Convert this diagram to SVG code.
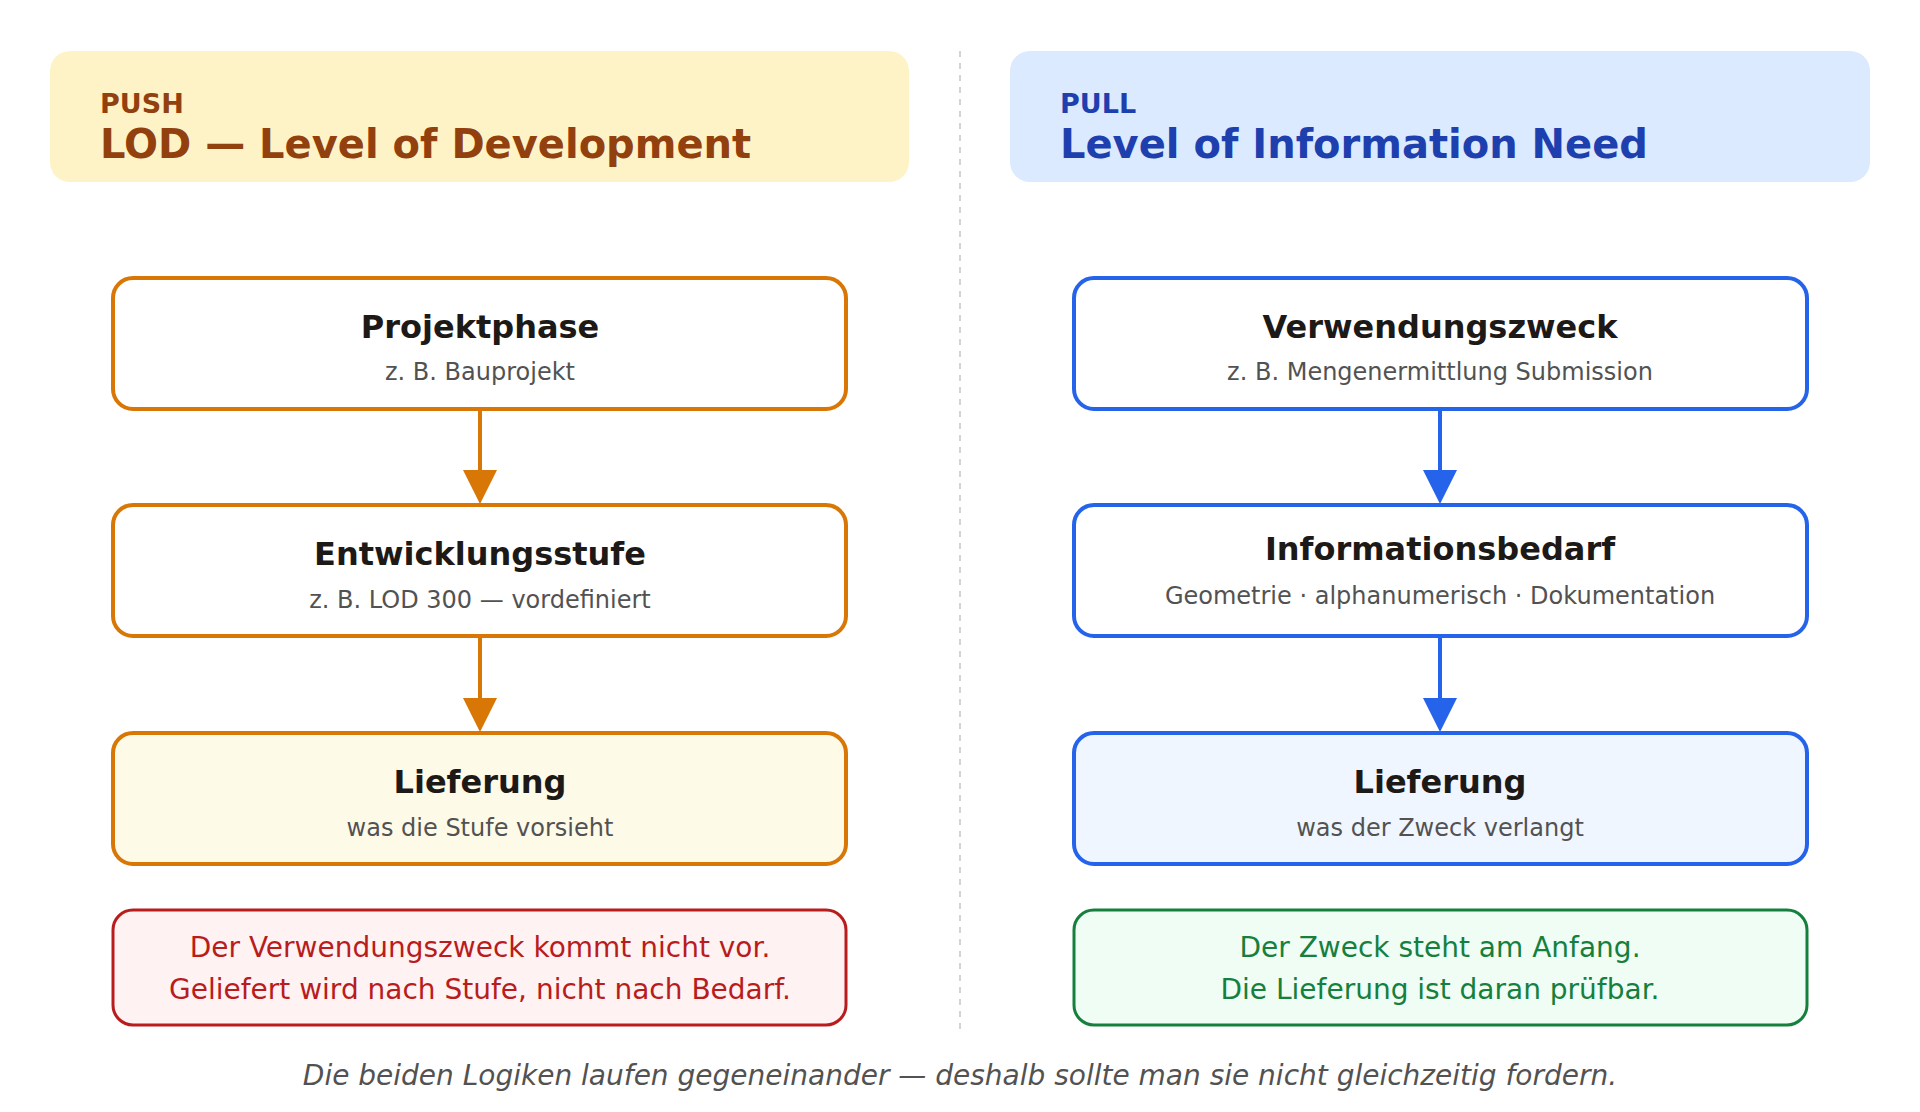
<svg xmlns="http://www.w3.org/2000/svg" width="1920" height="1112" viewBox="0 0 1920 1112">
<style>
text{font-family:"DejaVu Sans","Noto Sans",sans-serif}
.t{font-size:32px;font-weight:bold;fill:#1c1917;text-anchor:middle}
.s{font-size:24px;fill:#525252;text-anchor:middle}
.n{font-size:28px;text-anchor:middle}
.o{fill:#fff;stroke:#d97706;stroke-width:4}
.b{fill:#fff;stroke:#2563eb;stroke-width:4}
</style>
<rect width="1920" height="1112" fill="#fff"/>
<g id="header-push"><rect x="50" y="51" width="859" height="131" rx="20" fill="#fef3c7"/>
<text x="100" y="113" font-size="27" font-weight="bold" fill="#92400e">PUSH</text>
<text x="100" y="158" font-size="40" font-weight="bold" fill="#92400e">LOD — Level of Development</text></g>
<g id="header-pull"><rect x="1010" y="51" width="860" height="131" rx="20" fill="#dbeafe"/>
<text x="1060" y="113" font-size="27" font-weight="bold" fill="#1e40af">PULL</text>
<text x="1060" y="158" font-size="40" font-weight="bold" fill="#1e40af">Level of Information Need</text></g>
<line x1="960" y1="51" x2="960" y2="1031" stroke="#d4d4d4" stroke-width="2" stroke-dasharray="6,6"/>
<g id="connectors">
<line x1="480" y1="409" x2="480" y2="472" stroke="#d97706" stroke-width="4"/><path d="M463,470L497,470L480,504z" fill="#d97706"/>
<line x1="480" y1="636" x2="480" y2="700" stroke="#d97706" stroke-width="4"/><path d="M463,698L497,698L480,732z" fill="#d97706"/>
<line x1="1440" y1="409" x2="1440" y2="472" stroke="#2563eb" stroke-width="4"/><path d="M1423,470L1457,470L1440,504z" fill="#2563eb"/>
<line x1="1440" y1="636" x2="1440" y2="700" stroke="#2563eb" stroke-width="4"/><path d="M1423,698L1457,698L1440,732z" fill="#2563eb"/>
</g>
<g id="projektphase"><rect class="o" x="113" y="278" width="733" height="131" rx="20"/><text class="t" x="480" y="338">Projektphase</text><text class="s" x="480" y="380">z. B. Bauprojekt</text></g>
<g id="entwicklungsstufe"><rect class="o" x="113" y="505" width="733" height="131" rx="20"/><text class="t" x="480" y="565">Entwicklungsstufe</text><text class="s" x="480" y="608">z. B. LOD 300 — vordefiniert</text></g>
<g id="lieferung-push"><rect class="o" x="113" y="733" width="733" height="131" rx="20" style="fill:#fefae8"/><text class="t" x="480" y="793">Lieferung</text><text class="s" x="480" y="836">was die Stufe vorsieht</text></g>
<g id="note-push"><rect x="113" y="910" width="733" height="115" rx="20" fill="#fef2f2" stroke="#b91c1c" stroke-width="3"/><text class="n" x="480" y="957" fill="#b91c1c">Der Verwendungszweck kommt nicht vor.</text><text class="n" x="480" y="999" fill="#b91c1c">Geliefert wird nach Stufe, nicht nach Bedarf.</text></g>
<g id="verwendungszweck"><rect class="b" x="1074" y="278" width="733" height="131" rx="20"/><text class="t" x="1440" y="338">Verwendungszweck</text><text class="s" x="1440" y="380">z. B. Mengenermittlung Submission</text></g>
<g id="informationsbedarf"><rect class="b" x="1074" y="505" width="733" height="131" rx="20"/><text class="t" x="1440" y="560">Informationsbedarf</text><text class="s" x="1440" y="604">Geometrie · alphanumerisch · Dokumentation</text></g>
<g id="lieferung-pull"><rect class="b" x="1074" y="733" width="733" height="131" rx="20" style="fill:#eff6ff"/><text class="t" x="1440" y="793">Lieferung</text><text class="s" x="1440" y="836">was der Zweck verlangt</text></g>
<g id="note-pull"><rect x="1074" y="910" width="733" height="115" rx="20" fill="#f0fdf4" stroke="#15803d" stroke-width="3"/><text class="n" x="1440" y="957" fill="#15803d">Der Zweck steht am Anfang.</text><text class="n" x="1440" y="999" fill="#15803d">Die Lieferung ist daran prüfbar.</text></g>
<text x="960" y="1085" font-size="28" font-style="italic" fill="#525252" text-anchor="middle">Die beiden Logiken laufen gegeneinander — deshalb sollte man sie nicht gleichzeitig fordern.</text>
</svg>
